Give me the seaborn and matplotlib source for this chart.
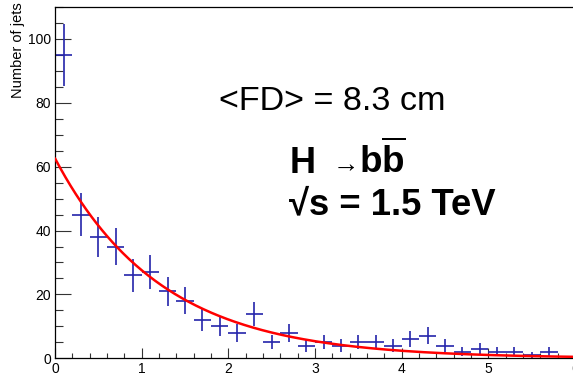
import numpy as np
import matplotlib
matplotlib.use("Agg")
import matplotlib.pyplot as plt
import seaborn as sns
import pandas as pd

# ---- data ----
bin_centers = [0.1, 0.3, 0.5, 0.7, 0.9, 1.1, 1.3, 1.5, 1.7, 1.9,
               2.1, 2.3, 2.5, 2.7, 2.9, 3.1, 3.3, 3.5, 3.7, 3.9,
               4.1, 4.3, 4.5, 4.7, 4.9, 5.1, 5.3, 5.5, 5.7, 5.9]
counts = [95, 45, 38, 35, 26, 27, 21, 18, 12, 10,
          8, 14, 5, 8, 4, 5, 4, 5, 5, 4,
          6, 7, 4, 2, 3, 2, 2, 1, 2, 0]
bin_halfwidth = 0.1
fit_norm = 62.6      # exponential fit amplitude
fit_tau = 1.22       # exponential fit decay length
x_ticks = [0, 1, 2, 3, 4, 5, 6]
y_ticks = [0, 20, 40, 60, 80, 100]
y_label = "Number of jets"
txt_fd = "<FD> = 8.3 cm"
txt_sqrts = "\u221as = 1.5 TeV"

sns.set_theme(style="ticks")
plt.rcParams["font.family"] = ["Liberation Sans", "DejaVu Sans"]
plt.rcParams["mathtext.fontset"] = "custom"
plt.rcParams["mathtext.bf"] = "Liberation Sans:bold"
plt.rcParams["mathtext.rm"] = "Liberation Sans"
plt.rcParams["text.color"] = "black"

W, H = 573, 373
fig = plt.figure(figsize=(W / 100, H / 100), dpi=100)
fig.patch.set_facecolor("white")
ax = fig.add_axes([55 / W, (H - 358.3) / H, 520 / W, (358.3 - 7) / H])
ax.set_facecolor("white")

df = pd.DataFrame({"x": bin_centers, "n": counts})
df = df[df["n"] > 0]

# fit curve
xf = np.linspace(0, 6, 400)
fit_df = pd.DataFrame({"x": xf, "y": fit_norm * np.exp(-xf / fit_tau)})

ax.errorbar(df["x"], df["n"], xerr=bin_halfwidth, yerr=np.sqrt(df["n"]),
            fmt="none", ecolor="#2424aa", elinewidth=1.2, capsize=0, zorder=2)
sns.lineplot(data=fit_df, x="x", y="y", ax=ax, color="#ff0000", linewidth=1.8,
             zorder=3)

ax.set_xlim(0, 6)
ax.set_ylim(0, 110)
ax.set_xticks(x_ticks)
ax.set_yticks(y_ticks)
ax.set_xticks(np.arange(0, 6.001, 0.2), minor=True)
ax.set_yticks(np.arange(0, 110.001, 5), minor=True)
ax.set_xlabel("")
ax.set_ylabel("")
for s in ax.spines.values():
    s.set_visible(True)
    s.set_color("black")
    s.set_linewidth(0.9)

ax.tick_params(axis="y", which="major", direction="in", length=11.5, width=0.8,
               color="#333333", labelsize=10, pad=3, labelcolor="black")
ax.tick_params(axis="y", which="minor", direction="in", length=5.8, width=0.8,
               color="#333333")
ax.tick_params(axis="x", which="major", direction="in", length=7.2, width=0.8,
               color="#333333", labelsize=10, pad=3, labelcolor="black")
ax.tick_params(axis="x", which="minor", direction="in", length=3.6, width=0.8,
               color="#333333")
ax.tick_params(top=False, right=False, which="both")

def px(x, y):
    return x / W, 1 - y / H

fig.text(*px(18, 2), y_label, rotation=90, ha="center", va="top",
         fontsize=10.5, color="black")
fig.text(*px(219, 110), txt_fd, fontsize=24.6, ha="left", va="baseline",
         color="black")
fig.text(*px(290, 173), "H", fontsize=26, fontweight="bold", ha="left",
         va="baseline", color="black")
fig.text(*px(333, 172), "\u2192", fontsize=19, ha="left", va="baseline",
         color="black")
fig.text(*px(359, 173), r"$\mathbf{b}\overline{\mathbf{b}}$", fontsize=26.5,
         ha="left", va="baseline", color="black")
fig.text(*px(289, 214), txt_sqrts, fontsize=26.3, fontweight="bold", ha="left",
         va="baseline", color="black")

fig.savefig("out.png", dpi=100, facecolor="white")
